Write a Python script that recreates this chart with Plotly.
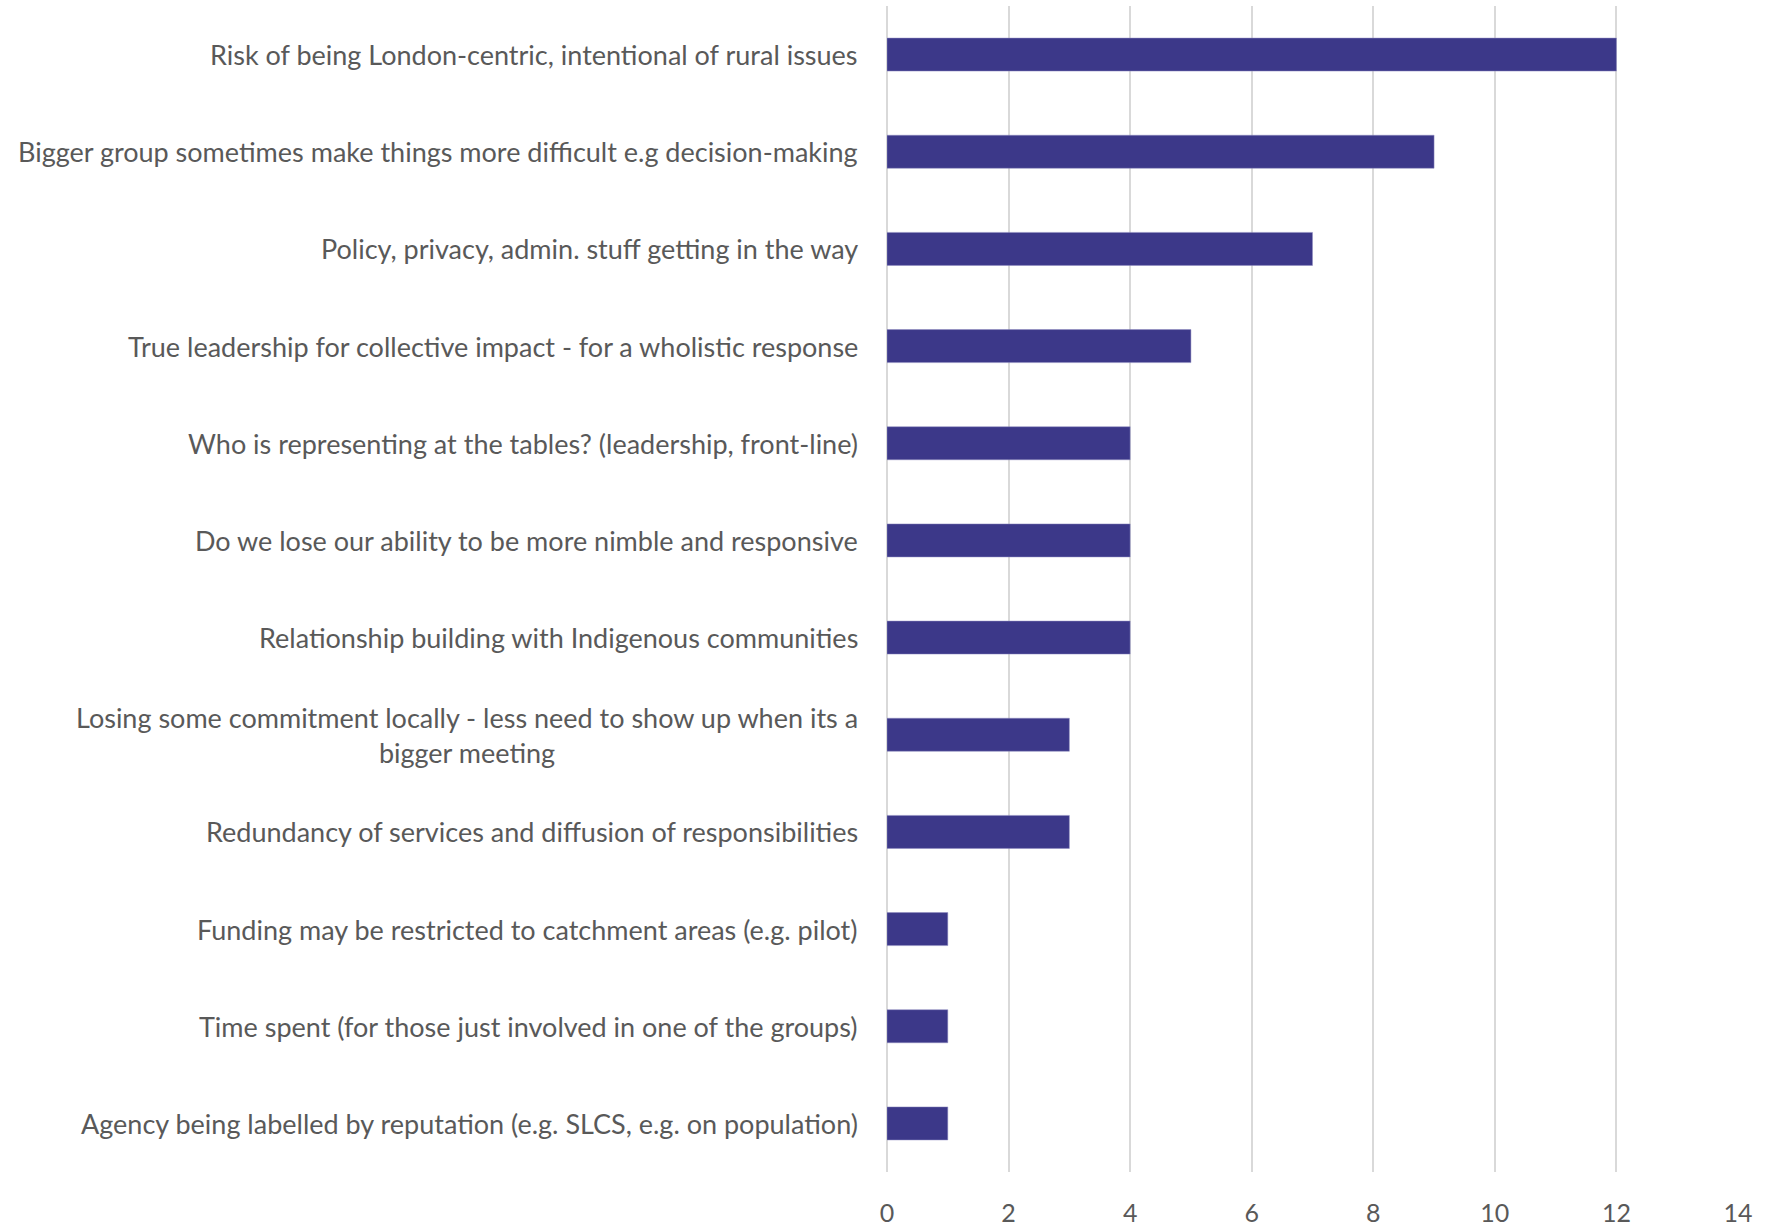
import plotly.graph_objects as go

categories = [
    "Risk of being London-centric, intentional of rural issues",
    "Bigger group sometimes make things more difficult e.g decision-making",
    "Policy, privacy, admin. stuff getting in the way",
    "True leadership for collective impact - for a wholistic response",
    "Who is representing at the tables? (leadership, front-line)",
    "Do we lose our ability to be more nimble and responsive",
    "Relationship building with Indigenous communities",
    "Losing some commitment locally - less need to show up when its a<br>bigger meeting",
    "Redundancy of services and diffusion of responsibilities",
    "Funding may be restricted to catchment areas (e.g. pilot)",
    "Time spent (for those just involved in one of the groups)",
    "Agency being labelled by reputation (e.g. SLCS, e.g. on population)",
]
values = [12, 9, 7, 5, 4, 4, 4, 3, 3, 1, 1, 1]
x_ticks = [0, 2, 4, 6, 8, 10, 12, 14]

FONT = "Lato"
GREY = "#595959"

fig = go.Figure(go.Bar(
    x=values, y=list(range(len(categories))), orientation="h",
    marker=dict(color="#3C3889", line=dict(color="#8E8CC0", width=0.5)),
    width=0.34,
))

annotations = [
    dict(x=0, xref="paper", y=i, yref="y", text=c, showarrow=False,
         xanchor="right", yanchor="middle", align="center", xshift=-27,
         font=dict(family=FONT, size=27, color=GREY))
    for i, c in enumerate(categories)
]

fig.update_layout(
    width=1779, height=1227,
    margin=dict(l=887, r=41, t=6, b=55),
    plot_bgcolor="white", paper_bgcolor="white",
    showlegend=False,
    annotations=annotations,
    xaxis=dict(range=[0, 14], tickvals=x_ticks, showgrid=True,
               gridcolor="#D9D9D9", gridwidth=1.5, zeroline=True,
               zerolinecolor="#D9D9D9", zerolinewidth=1.5,
               showline=False, ticks="", ticklabelstandoff=24,
               automargin=False,
               tickfont=dict(family=FONT, size=25, color=GREY)),
    yaxis=dict(range=[len(categories) - 0.5, -0.5], showticklabels=False,
               showgrid=False, zeroline=False, showline=False, ticks="",
               automargin=False),
)

fig.write_html("out.html")
